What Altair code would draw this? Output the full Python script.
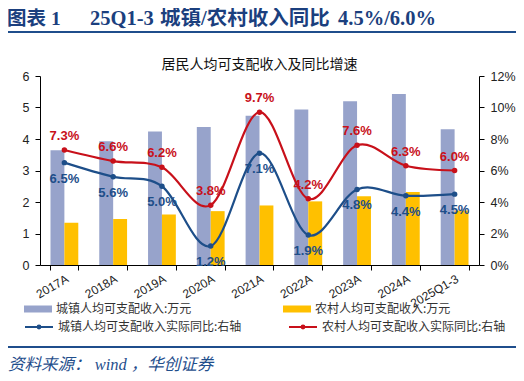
import altair as alt
import pandas as pd

cats = ["2017A", "2018A", "2019A", "2020A", "2021A", "2022A", "2023A", "2024A", "2025Q1-3"]
urban_inc = [3.64, 3.93, 4.24, 4.38, 4.74, 4.94, 5.20, 5.43, 4.31]
rural_inc = [1.34, 1.46, 1.60, 1.71, 1.89, 2.02, 2.18, 2.32, 1.73]
urban_g = [6.5, 5.6, 5.0, 1.2, 7.1, 1.9, 4.8, 4.4, 4.5]
rural_g = [7.3, 6.6, 6.2, 3.8, 9.7, 4.2, 7.6, 6.3, 6.0]

S_UB = "城镇人均可支配收入:万元"
S_RB = "农村人均可支配收入:万元"
S_UL = "城镇人均可支配收入实际同比:右轴"
S_RL = "农村人均可支配收入实际同比:右轴"

header_parts = ["图表\u00a01", "25Q1-3", "城镇/农村收入同比", "4.5%/6.0%"]

C_UB = "#97A3CB"
C_RB = "#FFC000"
C_UL = "#1D4E89"
C_RL = "#C8101A"
NAVY = "#1F4E8C"
HEAD = "#1B3F7E"

W, H = 439, 189
NB = "\u00a0"

bars_df = pd.DataFrame({
    "cat": cats * 2,
    "series": [S_UB] * 9 + [S_RB] * 9,
    "v": urban_inc + rural_inc,
})
lines_df = pd.DataFrame({
    "cat": cats * 2,
    "series": [S_UL] * 9 + [S_RL] * 9,
    "g": [x / 100 for x in urban_g + rural_g],
    "label": [f"{x:.1f}%" for x in urban_g + rural_g],
})

x_enc = alt.X(
    "cat:N", sort=cats, title=None,
    scale=alt.Scale(paddingInner=0.43, paddingOuter=0.215),
    axis=alt.Axis(labelAngle=-30, tickBand="extent", domainColor="black", tickColor="black",
                  tickSize=5, labelFont="Liberation Sans", labelFontSize=12, labelColor="#222",
                  labelPadding=3),
)

bars = alt.Chart(bars_df).mark_bar().encode(
    x=x_enc,
    xOffset=alt.XOffset("series:N", sort=[S_UB, S_RB], scale=alt.Scale(paddingInner=0, paddingOuter=0)),
    y=alt.Y("v:Q", title=None, scale=alt.Scale(domain=[0, 6]),
            axis=alt.Axis(values=[0, 1, 2, 3, 4, 5, 6], grid=False, domainColor="black",
                          tickColor="black", tickSize=5, labelPadding=6, labelFont="Liberation Sans",
                          labelFontSize=12.5, labelColor="#222")),
    fill=alt.Fill("series:N", scale=alt.Scale(domain=[S_UB, S_RB], range=[C_UB, C_RB]),
                  legend=alt.Legend(orient="none", legendX=-9, legendY=226, direction="horizontal",
                                    columns=2, title=None,
                                    symbolType="M-2,-0.5L2,-0.5L2,0.5L-2,0.5Z", symbolSize=196,
                                    symbolStrokeWidth=0, labelFont="Noto Sans CJK SC",
                                    labelFontSize=12, labelColor="#333", labelOffset=11,
                                    labelLimit=400, columnPadding=91)),
)

y_right = alt.Y("g:Q", title=None, scale=alt.Scale(domain=[0, 0.12]),
                axis=alt.Axis(orient="right", format=".0%",
                              values=[0, 0.02, 0.04, 0.06, 0.08, 0.10, 0.12], grid=False,
                              domainColor="black", tickColor="black", tickSize=5, labelPadding=6,
                              labelFont="Liberation Sans", labelFontSize=12.5, labelColor="#222"))

lines = alt.Chart(lines_df).mark_line(interpolate="cardinal", strokeWidth=2.2).encode(
    x=alt.X("cat:N", sort=cats),
    y=y_right,
    stroke=alt.Stroke("series:N", scale=alt.Scale(domain=[S_UL, S_RL], range=[C_UL, C_RL]),
                      legend=alt.Legend(orient="none", legendX=-9, legendY=243, direction="horizontal",
                                        columns=2, title=None,
                                        symbolType="M-2,0L2,0M0.2,0A0.2,0.2,0,1,1,-0.2,0A0.2,0.2,0,1,1,0.2,0",
                                        symbolSize=196, symbolStrokeWidth=2,
                                        labelFont="Noto Sans CJK SC", labelFontSize=12,
                                        labelColor="#333", labelOffset=11, labelLimit=400,
                                        columnPadding=43)),
)

extra = []
for s, col, dy in [(S_UL, C_UL, 16), (S_RL, C_RL, -14)]:
    base = alt.Chart(lines_df).transform_filter(alt.datum.series == s)
    extra.append(base.mark_circle(size=30, color=col, opacity=1).encode(
        x=alt.X("cat:N", sort=cats), y=y_right))
    extra.append(base.mark_text(color=col, dy=dy, font="Liberation Sans", fontWeight="bold",
                                fontSize=13).encode(
        x=alt.X("cat:N", sort=cats), y=y_right, text="label:N"))

line_layer = alt.layer(lines, *extra)

one = alt.Data(values=[{"k": 1}])
head_layers = []
for txt, hx, fs in zip(header_parts, [-33, 50, 120, 298], [19.5, 20.5, 20.5, 20.5]):
    head_layers.append(alt.Chart(one).mark_text(
        text=txt, align="left", baseline="middle",
        font="Liberation Serif, Noto Sans CJK SC", fontWeight="bold", fontSize=fs, color=HEAD
    ).encode(x=alt.value(hx), y=alt.value(-57)))
header_rule = alt.Chart(one).mark_rule(color=NAVY, strokeWidth=2).encode(
    x=alt.value(-34), x2=alt.value(477), y=alt.value(-44))
ctitle = alt.Chart(one).mark_text(
    text="居民人均可支配收入及同比增速", align="center", baseline="middle",
    font="Noto Sans CJK SC", fontSize=14, color="#111"
).encode(x=alt.value(W / 2), y=alt.value(-11))
src_rule = alt.Chart(one).mark_rule(color=NAVY, strokeWidth=2).encode(
    x=alt.value(-34), x2=alt.value(477), y=alt.value(271))
src = alt.Chart(one).mark_text(
    text="资料来源：" + NB + "wind" + NB + "，华创证券", align="left", baseline="middle",
    font="Liberation Serif, Noto Sans CJK SC", fontStyle="italic", fontSize=16.5, color=NAVY
).encode(x=alt.value(-32), y=alt.value(289))

chart = alt.layer(bars, line_layer, *head_layers, header_rule, ctitle, src_rule, src).resolve_scale(
    y="independent"
).properties(
    width=W, height=H,
    autosize=alt.AutoSizeParams(type="none"),
    padding={"left": 32, "top": 68, "right": 37, "bottom": 108},
).configure_view(stroke=None).configure_axisX(labelAlign="right", labelBaseline="top")

chart.save("out.html", embed_options={"renderer": "svg", "actions": False})
